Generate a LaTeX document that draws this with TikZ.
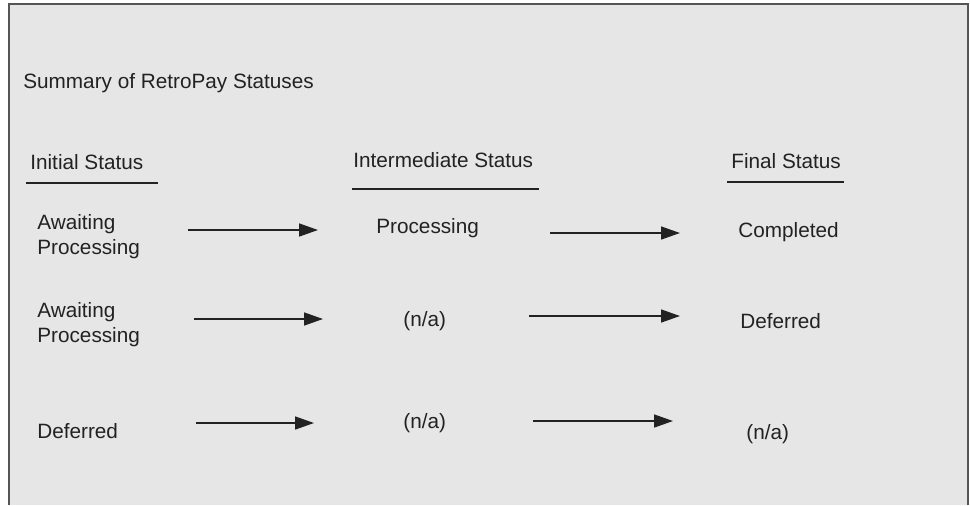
\documentclass[tikz,border=0pt]{standalone}
\usepackage{fontspec}
\setmainfont{Liberation Sans}
\usetikzlibrary{arrows.meta}
\definecolor{panel}{HTML}{E6E6E6}
\definecolor{ink}{HTML}{222222}
\definecolor{frame}{HTML}{555555}

\begin{document}
\begin{tikzpicture}[x=0.02cm,y=-0.02cm,
  txt/.style={anchor=base west,inner sep=0pt,text=ink,font=\fontsize{11.8}{14.2}\selectfont},
  twoline/.style={txt,align=left},
  arr/.style={-{Triangle[length=0.38cm,width=0.26cm]},line width=0.9pt,draw=ink},
  rule/.style={line width=0.9pt,draw=ink}]
\useasboundingbox (0,0) rectangle (970,505);
\fill[panel] (9,4) rectangle (968,505);
\draw[line width=1pt,frame] (9,505)--(9,4)--(968,4)--(968,505);
% headings
\node[txt] (title) at (23,88) {Summary of RetroPay Statuses};
\node[txt] (init) at (30,169) {Initial Status};
\node[txt] (inter) at (353,167) {Intermediate Status};
\node[txt] (fin) at (731,168) {Final Status};
\draw[rule] (26,183)--(158,183);
\draw[rule] (352,189)--(539,189);
\draw[rule] (727,182)--(844,182);
% row 1 (two-line nodes sit on their last line)
\node[twoline] (a1) at (37,254) {Awaiting\\Processing};
\node[txt] (b1) at (376,233) {Processing};
\node[txt] (c1) at (738,237) {Completed};
% row 2
\node[twoline] (a2) at (37,342) {Awaiting\\Processing};
\node[txt] (b2) at (403,326) {(n/a)};
\node[txt] (c2) at (740,328) {Deferred};
% row 3
\node[txt] (a3) at (37,438) {Deferred};
\node[txt] (b3) at (403,428) {(n/a)};
\node[txt] (c3) at (746,439) {(n/a)};
% arrows
\coordinate (s1) at (188,230); \coordinate (e1) at (318,230);
\coordinate (s2) at (550,233); \coordinate (e2) at (680,233);
\coordinate (s3) at (194,319); \coordinate (e3) at (323,319);
\coordinate (s4) at (529,316); \coordinate (e4) at (680,316);
\coordinate (s5) at (196,423); \coordinate (e5) at (314,423);
\coordinate (s6) at (533,421); \coordinate (e6) at (673,421);
\draw[arr] (s1)--(e1);
\draw[arr] (s2)--(e2);
\draw[arr] (s3)--(e3);
\draw[arr] (s4)--(e4);
\draw[arr] (s5)--(e5);
\draw[arr] (s6)--(e6);
\end{tikzpicture}
\end{document}
